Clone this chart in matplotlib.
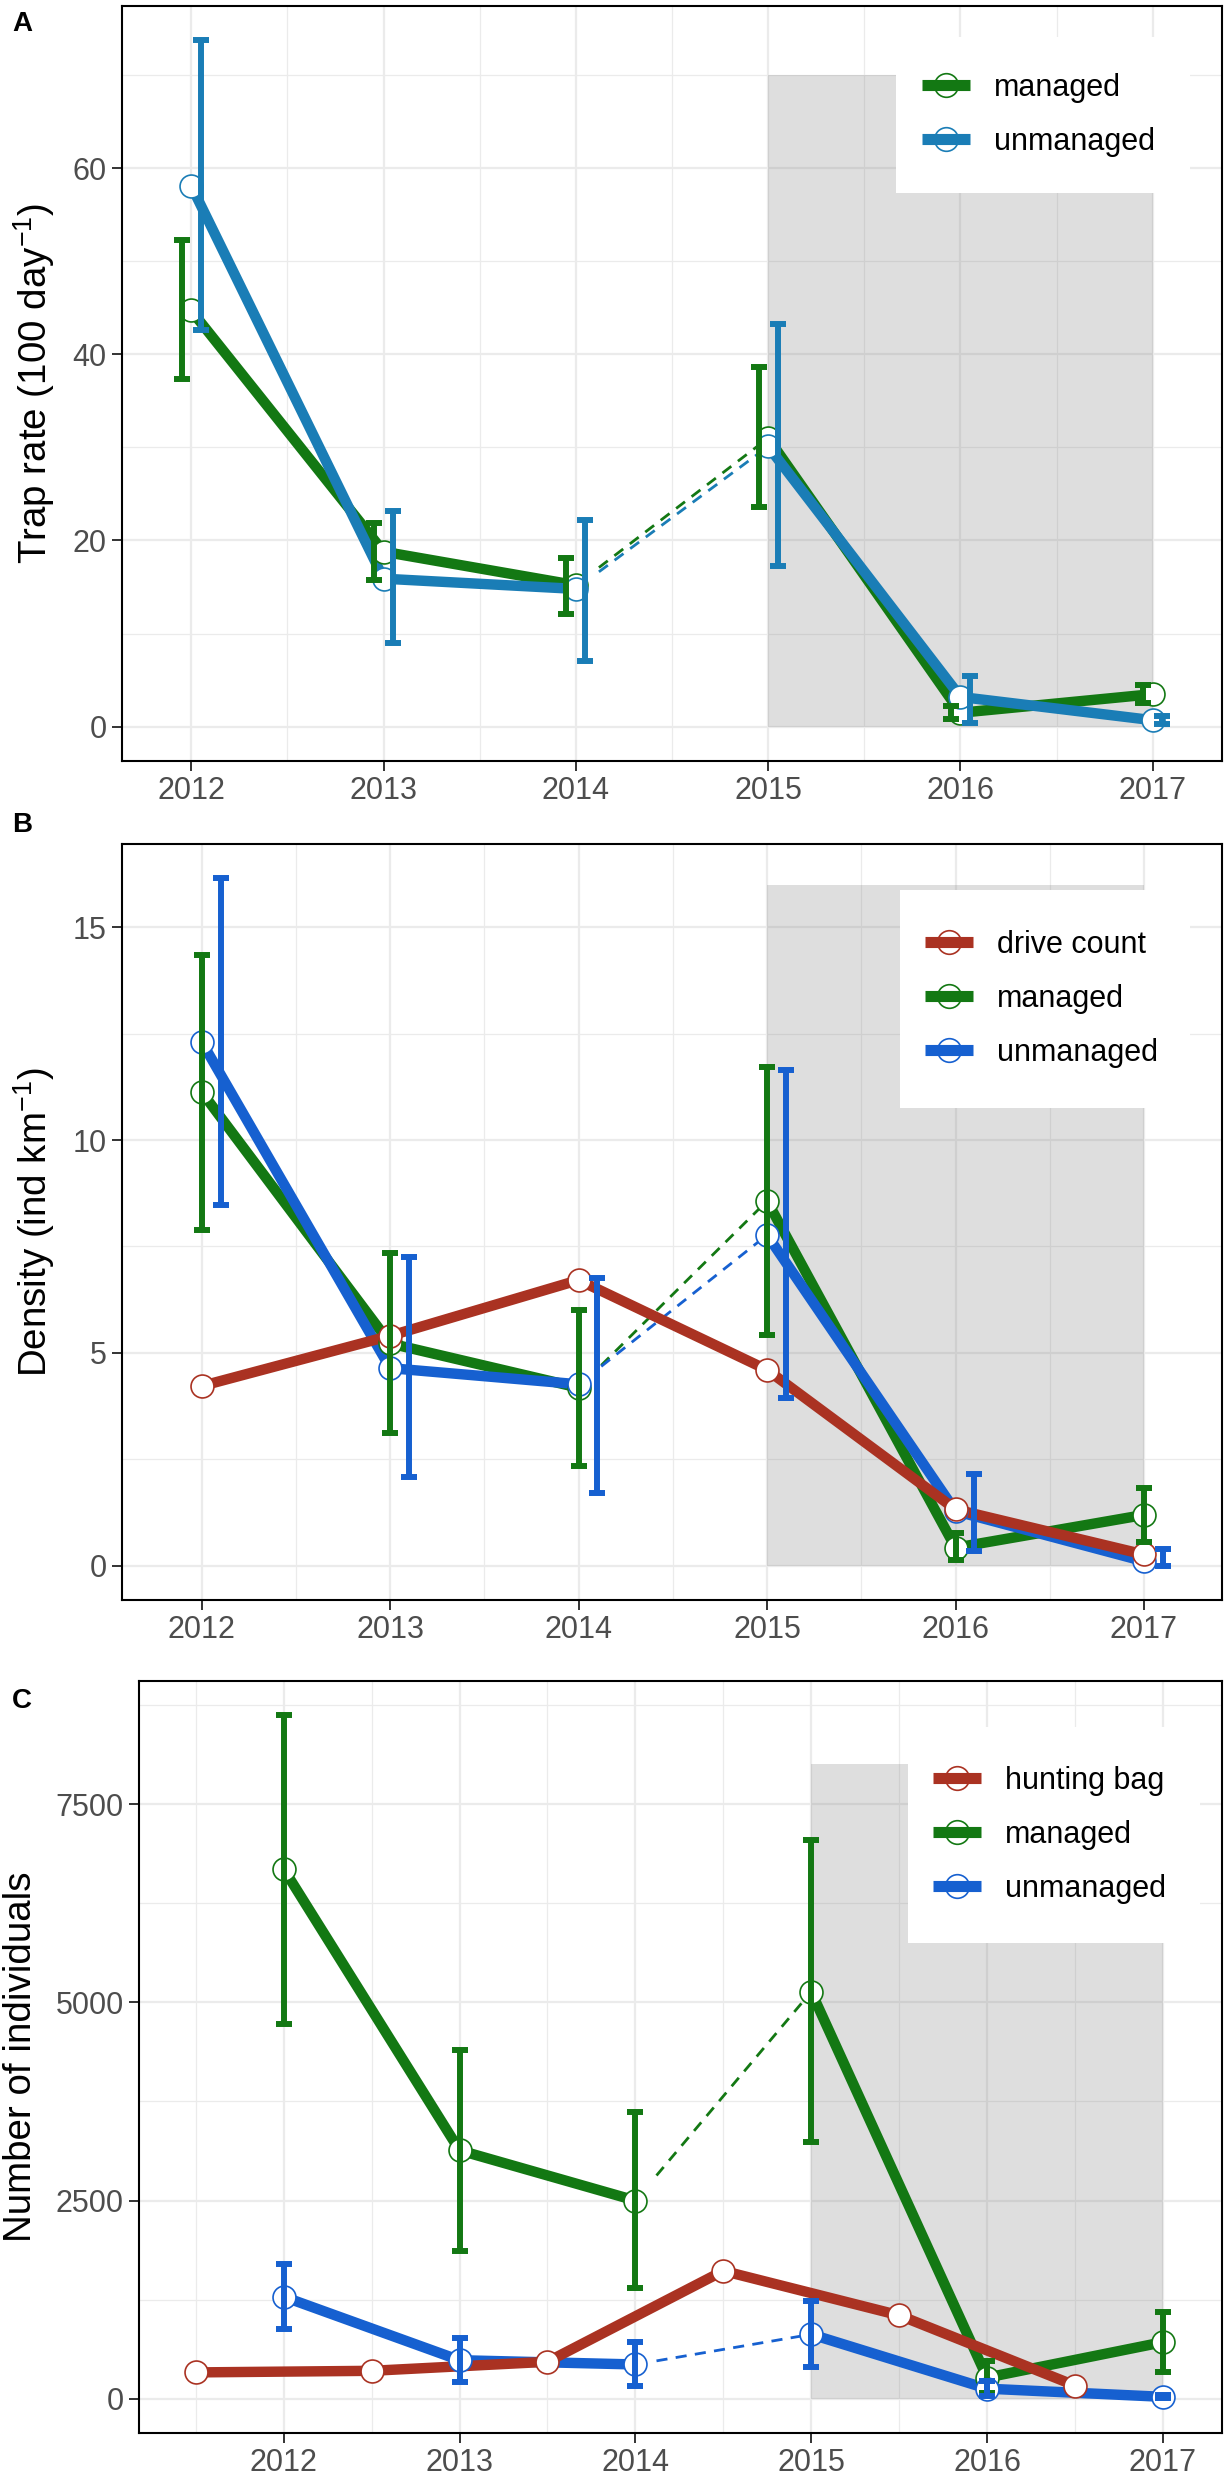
import matplotlib
matplotlib.use('Agg')
import matplotlib.pyplot as plt
from matplotlib.lines import Line2D
from matplotlib.patches import Rectangle
from matplotlib.legend_handler import HandlerTuple
import numpy as np

plt.rcParams['font.family'] = ['Liberation Sans', 'DejaVu Sans']
plt.rcParams['mathtext.fontset'] = 'custom'
plt.rcParams['mathtext.rm'] = 'Liberation Sans'
plt.rcParams['mathtext.it'] = 'Liberation Sans:italic'
plt.rcParams['mathtext.bf'] = 'Liberation Sans:bold'

# ---------------- data ----------------
years = [2012, 2013, 2014, 2015, 2016, 2017]

# Panel A: trap rate
A_managed = [44.7, 18.8, 15.2, 31.0, 1.5, 3.5]
A_managed_lo = [37.3, 15.8, 12.1, 23.6, 0.8, 2.6]
A_managed_hi = [52.3, 21.9, 18.1, 38.6, 2.2, 4.5]
A_unmanaged = [58.1, 15.9, 14.8, 30.1, 3.2, 0.7]
A_unmanaged_lo = [42.6, 9.0, 7.1, 17.3, 0.4, 0.3]
A_unmanaged_hi = [73.7, 23.2, 22.2, 43.2, 5.4, 1.1]

# Panel B: density
B_drive = [4.22, 5.40, 6.71, 4.60, 1.32, 0.26]
B_managed = [11.13, 5.22, 4.18, 8.57, 0.42, 1.19]
B_managed_lo = [7.89, 3.11, 2.34, 5.41, 0.13, 0.55]
B_managed_hi = [14.36, 7.35, 6.01, 11.73, 0.77, 1.83]
B_unmanaged = [12.31, 4.64, 4.26, 7.77, 1.28, 0.10]
B_unmanaged_lo = [8.47, 2.07, 1.70, 3.94, 0.35, 0.0]
B_unmanaged_hi = [16.15, 7.25, 6.75, 11.64, 2.14, 0.38]

# Panel C: number of individuals
C_hunt_years = [2011.5, 2012.5, 2013.5, 2014.5, 2015.5, 2016.5]
C_hunt = [333, 353, 467, 1613, 1053, 167]
C_managed = [6680, 3133, 2500, 5133, 268, 714]
C_managed_lo = [4720, 1867, 1400, 3233, 77, 332]
C_managed_hi = [8620, 4400, 3613, 7047, 472, 1097]
C_unmanaged = [1287, 487, 433, 813, 128, 25]
C_unmanaged_lo = [880, 213, 167, 400, 40, 5]
C_unmanaged_hi = [1700, 767, 713, 1233, 220, 45]

labels_A = ['managed', 'unmanaged']
labels_B = ['drive count', 'managed', 'unmanaged']
labels_C = ['hunting bag', 'managed', 'unmanaged']

GREEN = '#137813'
BLUE_A = '#1A7DB6'
BLUE = '#1660D0'
RED = '#AA3222'

# ---------------- layout ----------------
W, H = 1229, 2480
fig = plt.figure(figsize=(W / 100, H / 100), dpi=100)


def make_ax(l, r, t, b):
    return fig.add_axes([l / W, 1 - b / H, (r - l) / W, (b - t) / H])


LW = 7.5
ELW = 4.3
MS = 16.5


def style_ax(ax, xlim, ylim, yticks, yminor, xminor, ylabels):
    ax.set_xlim(*xlim)
    ax.set_ylim(*ylim)
    ax.set_xticks(years)
    ax.set_xticks(xminor, minor=True)
    ax.set_yticks(yticks)
    ax.set_yticklabels(ylabels)
    ax.set_yticks(yminor, minor=True)
    ax.set_axisbelow(True)
    ax.grid(which='major', color='#EBEBEB', lw=1.6)
    ax.grid(which='minor', color='#EBEBEB', lw=0.9)
    ax.tick_params(which='major', length=7, width=1.4, color='#333333',
                   labelsize=22, labelcolor='#4D4D4D', pad=4)
    ax.tick_params(which='minor', length=0)
    for s in ax.spines.values():
        s.set_linewidth(1.5)
        s.set_color('black')


def draw_series(ax, y, lo, hi, color, err_off, z=3):
    x = np.array(years, dtype=float)
    y = np.array(y, dtype=float)
    ax.plot(x[:3], y[:3], color=color, lw=LW, solid_capstyle='butt', zorder=z)
    ax.plot(x[3:], y[3:], color=color, lw=LW, solid_capstyle='butt', zorder=z)
    # dashed connection 2014 -> 2015
    xs = x[2] + 0.12
    ys = y[2] + (y[3] - y[2]) * 0.12
    ax.plot([xs, x[3]], [ys, y[3]], color=color, lw=2.0,
            linestyle=(0, (4, 3)), zorder=z)
    ax.plot(x, y, 'o', ms=MS, mfc='white', mec=color, mew=1.2, zorder=4)
    lo = np.array(lo); hi = np.array(hi)
    ax.errorbar(x + err_off, y, yerr=[y - lo, hi - y], fmt='none', ecolor=color,
                elinewidth=ELW, capsize=6, capthick=ELW, zorder=5)


def add_legend(ax, labels, colors, box, key_left, center_y):
    bl, br, bt, bb = box
    ax.add_patch(Rectangle((bl / W, 1 - bb / H), (br - bl) / W, (bb - bt) / H,
                           transform=fig.transFigure, facecolor='white',
                           edgecolor='none', zorder=6))
    handles = []
    for c in colors:
        m = Line2D([], [], marker='o', ms=17, mfc='white', mec=c, mew=1.2, ls='none')
        l = Line2D([], [], color=c, lw=8, solid_capstyle='butt')
        handles.append((m, l))
    leg = ax.legend(handles, labels, handler_map={tuple: HandlerTuple(ndivide=1, pad=0)},
                    loc='center left', bbox_to_anchor=(key_left / W, 1 - center_y / H),
                    bbox_transform=fig.transFigure, frameon=False, borderpad=0,
                    borderaxespad=0, handlelength=1.57, handletextpad=0.8,
                    labelspacing=0.78, fontsize=22)
    leg.set_zorder(7)


def shade(ax, top):
    ax.add_patch(Rectangle((2015, 0), 2, top, facecolor='#7F7F7F', alpha=0.25,
                           lw=0, zorder=1.5))


# ---------------- Panel A ----------------
axA = make_ax(122, 1222, 6, 761)
style_ax(axA, (2011.64, 2017.36), (-3.68, 77.4), [0, 20, 40, 60], [10, 30, 50, 70],
         [2012.5, 2013.5, 2014.5, 2015.5, 2016.5], ['0', '20', '40', '60'])
shade(axA, 70)
draw_series(axA, A_managed, A_managed_lo, A_managed_hi, GREEN, -0.05)
draw_series(axA, A_unmanaged, A_unmanaged_lo, A_unmanaged_hi, BLUE_A, 0.05)
add_legend(axA, labels_A, [GREEN, BLUE_A], (896, 1190, 37, 193), 922, 115)

# ---------------- Panel B ----------------
axB = make_ax(122, 1222, 844, 1600)
style_ax(axB, (2011.577, 2017.414), (-0.81, 16.96), [0, 5, 10, 15], [2.5, 7.5, 12.5],
         [2012.5, 2013.5, 2014.5, 2015.5, 2016.5], ['0', '5', '10', '15'])
shade(axB, 16)
draw_series(axB, B_managed, B_managed_lo, B_managed_hi, GREEN, 0.0)
draw_series(axB, B_unmanaged, B_unmanaged_lo, B_unmanaged_hi, BLUE, 0.1)
axB.plot(years, B_drive, color=RED, lw=LW, solid_capstyle='butt', zorder=3.5)
axB.plot(years, B_drive, 'o', ms=MS, mfc='white', mec=RED, mew=1.2, zorder=4.2)
add_legend(axB, labels_B, [RED, GREEN, BLUE], (900, 1190, 890, 1108), 925, 999)

# ---------------- Panel C ----------------
axC = make_ax(139, 1222, 1681, 2433)
style_ax(axC, (2011.177, 2017.336), (-431, 9051), [0, 2500, 5000, 7500],
         [1250, 3750, 6250, 8750],
         [2011.5, 2012.5, 2013.5, 2014.5, 2015.5, 2016.5], ['0', '2500', '5000', '7500'])
shade(axC, 8000)
draw_series(axC, C_managed, C_managed_lo, C_managed_hi, GREEN, 0.0)
draw_series(axC, C_unmanaged, C_unmanaged_lo, C_unmanaged_hi, BLUE, 0.0)
axC.plot(C_hunt_years, C_hunt, color=RED, lw=LW, solid_capstyle='butt', zorder=3.5)
axC.plot(C_hunt_years, C_hunt, 'o', ms=MS, mfc='white', mec=RED, mew=1.2, zorder=4.2)
add_legend(axC, labels_C, [RED, GREEN, BLUE], (908, 1200, 1727, 1943), 933, 1835)

# ---------------- titles & letters ----------------
fig.text(34 / W, 1 - 383 / H, 'Trap rate (100 day$^{-1}$)', rotation=90,
         ha='center', va='center', fontsize=27.7)
fig.text(34 / W, 1 - 1222 / H, 'Density (ind km$^{-1}$)', rotation=90,
         ha='center', va='center', fontsize=27.7)
fig.text(21 / W, 1 - 2057 / H, 'Number of individuals', rotation=90,
         ha='center', va='center', fontsize=27.7)

fig.text(12 / W, 1 - 31 / H, 'A', fontsize=20, fontweight='bold', va='baseline')
fig.text(12 / W, 1 - 832 / H, 'B', fontsize=20, fontweight='bold', va='baseline')
fig.text(12 / W, 1 - 1708 / H, 'C', fontsize=20, fontweight='bold', va='baseline')

fig.savefig('out.png', dpi=100)
